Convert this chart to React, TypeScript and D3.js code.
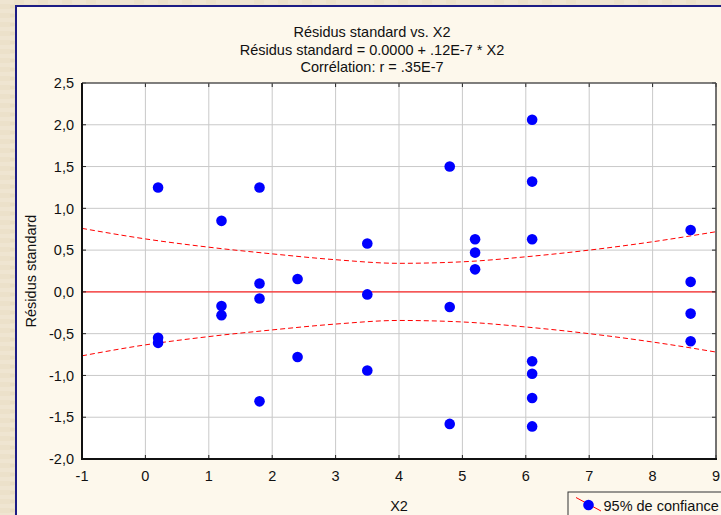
import React from "react";
import * as d3 from "d3";

// values
const x2Values = [
	0.2, 0.2, 0.2,
	1.2, 1.2, 1.2,
	1.8, 1.8, 1.8, 1.8,
	2.4, 2.4,
	3.5, 3.5, 3.5,
	4.8, 4.8, 4.8,
	5.2, 5.2, 5.2,
	6.1, 6.1, 6.1, 6.1, 6.1, 6.1, 6.1,
	8.6, 8.6, 8.6, 8.6
];
const residuals = [
	1.25, -0.55, -0.61,
	0.85, -0.17, -0.28,
	1.25, 0.1, -0.08, -1.31,
	0.155, -0.78,
	0.58, -0.03, -0.94,
	1.5, -0.18, -1.58,
	0.63, 0.47, 0.27,
	2.06, 1.32, 0.63, -0.83, -0.98, -1.27, -1.61,
	0.74, 0.12, -0.26, -0.59
];
const bandX = [-1, 0, 1, 2, 3, 4, 5, 6, 7, 8, 9];
const bandUpper = [0.76, 0.634, 0.535, 0.455, 0.385, 0.342, 0.36, 0.42, 0.5, 0.6, 0.72];
const bandLower = [-0.765, -0.634, -0.535, -0.455, -0.385, -0.342, -0.36, -0.42, -0.5, -0.6, -0.72];
const regIntercept = 0.0;
const regSlope = 0.0;
const xTicks = [-1, 0, 1, 2, 3, 4, 5, 6, 7, 8, 9];
const yTicks = [-2, -1.5, -1, -0.5, 0, 0.5, 1, 1.5, 2, 2.5];
const titleLines = [
	"Résidus standard vs. X2",
	"Résidus standard = 0.0000 + .12E-7 * X2",
	"Corrélation: r = .35E-7"
];
const xTitle = "X2";
const yTitle = "Résidus standard";
const legendLabel = "95% de confiance";

const W = 721;
const H = 515;
const plot = { left: 82, right: 716, top: 83, bottom: 459 };
const font = "'Liberation Sans', Arial, sans-serif";
const fs = 14.5;

const frLocale = d3.formatLocale({
	decimal: ",",
	thousands: " ",
	grouping: [3],
	currency: ["", ""],
	minus: "-"
});
const fmtY = frLocale.format(".1f");
const fmtX = frLocale.format("d");

export default function App() {
	const x = d3.scaleLinear().domain([-1, 9]).range([plot.left, plot.right]);
	const y = d3.scaleLinear().domain([-2, 2.5]).range([plot.bottom, plot.top]);

	const bandLine = d3
		.line<number>()
		.x((_, i) => x(bandX[i]))
		.y((d) => y(d))
		.curve(d3.curveMonotoneX);

	const regLine = d3
		.line<number>()
		.x((d) => x(d))
		.y((d) => y(regIntercept + regSlope * d));

	return (
		<svg
			width={W}
			height={H}
			style={{ position: "absolute", left: 0, top: 0 }}
			fontFamily={font}>
			<defs>
				<pattern id="parch" width="24" height="9" patternUnits="userSpaceOnUse">
					<rect width="24" height="9" fill="#ece1ca" />
					<rect y="0" width="14" height="4" fill="#efe5d1" />
					<rect x="10" y="5" width="12" height="3" fill="#e8dcc3" />
				</pattern>
				<clipPath id="plotClip">
					<rect x={plot.left} y={plot.top} width={plot.right - plot.left} height={plot.bottom - plot.top} />
				</clipPath>
			</defs>
			<rect width={W} height={H} fill="url(#parch)" />
			{/* panel */}
			<rect x={16} y={6} width={W + 20} height={H + 20} fill="#fdf8ec" stroke="#1c1c84" strokeWidth={2} />

			{/* titles */}
			{titleLines.map((t, i) => (
				<text key={i} x={372} y={37 + i * 17.5} textAnchor="middle" fontSize={fs} fill="#111">
					{t}
				</text>
			))}

			{/* plot area */}
			<rect x={plot.left} y={plot.top} width={plot.right - plot.left} height={plot.bottom - plot.top} fill="#fff" />
			<g stroke="#c9c9c9" strokeWidth={1}>
				{xTicks.slice(1, -1).map((t) => (
					<line key={t} x1={x(t)} x2={x(t)} y1={plot.top} y2={plot.bottom} />
				))}
				{yTicks.slice(1, -1).map((t) => (
					<line key={t} y1={y(t)} y2={y(t)} x1={plot.left} x2={plot.right} />
				))}
			</g>

			<g clipPath="url(#plotClip)">
				<path d={bandLine(bandUpper) || ""} fill="none" stroke="#ff0000" strokeWidth={1} strokeDasharray="5,3" />
				<path d={bandLine(bandLower) || ""} fill="none" stroke="#ff0000" strokeWidth={1} strokeDasharray="5,3" />
				<path d={regLine([-1, 9]) || ""} fill="none" stroke="#ff2a2a" strokeWidth={1.3} />
				{x2Values.map((v, i) => (
					<circle key={i} cx={x(v)} cy={y(residuals[i])} r={5.3} fill="#0000ff" />
				))}
			</g>

			{/* ticks, inward */}
			<g stroke="#222" strokeWidth={1}>
				{xTicks.map((t) => (
					<g key={t}>
						<line x1={x(t)} x2={x(t)} y1={plot.bottom} y2={plot.bottom - 4} />
						<line x1={x(t)} x2={x(t)} y1={plot.top} y2={plot.top + 4} />
					</g>
				))}
				{yTicks.map((t) => (
					<g key={t}>
						<line y1={y(t)} y2={y(t)} x1={plot.left} x2={plot.left + 4} />
						<line y1={y(t)} y2={y(t)} x1={plot.right} x2={plot.right - 4} />
					</g>
				))}
			</g>

			{/* frame */}
			<line x1={plot.left} x2={plot.right} y1={plot.top} y2={plot.top} stroke="#555" strokeWidth={1.5} />
			<line x1={plot.right} x2={plot.right} y1={plot.top} y2={plot.bottom} stroke="#444" strokeWidth={1.5} />
			<line x1={plot.left} x2={plot.left} y1={plot.top} y2={plot.bottom + 1} stroke="#111" strokeWidth={2} />
			<line x1={plot.left - 1} x2={plot.right + 1} y1={plot.bottom} y2={plot.bottom} stroke="#111" strokeWidth={2} />

			{/* tick labels */}
			{yTicks.map((t) => (
				<text key={t} x={74} y={y(t)} dy="0.36em" textAnchor="end" fontSize={fs} fill="#111">
					{fmtY(t)}
				</text>
			))}
			{xTicks.map((t) => (
				<text key={t} x={x(t)} y={476} dy="0.36em" textAnchor="middle" fontSize={fs} fill="#111">
					{fmtX(t)}
				</text>
			))}

			{/* axis titles */}
			<text x={399} y={506} dy="0.36em" textAnchor="middle" fontSize={fs} fill="#111">
				{xTitle}
			</text>
			<text
				transform={`translate(31, ${(plot.top + plot.bottom) / 2}) rotate(-90)`}
				dy="0.36em"
				textAnchor="middle"
				fontSize={fs}
				fill="#111">
				{yTitle}
			</text>

			{/* legend */}
			<rect x={568} y={492} width={200} height={60} fill="#fdf8ec" stroke="#333" strokeWidth={1} />
			<line x1={576} y1={497.5} x2={601} y2={511} stroke="#ff0000" strokeWidth={1} />
			<circle cx={588.5} cy={505} r={5.3} fill="#0000ff" />
			<text x={603.5} y={505.5} dy="0.36em" fontSize={fs} fill="#111">
				{legendLabel}
			</text>
		</svg>
	);
}
